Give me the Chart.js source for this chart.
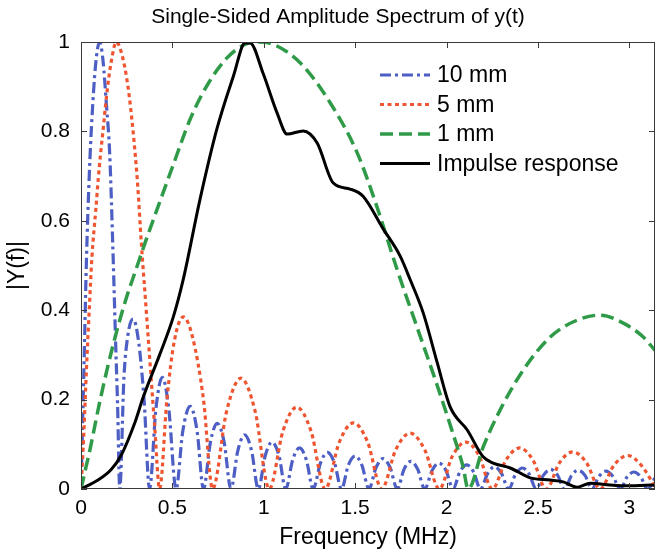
<!DOCTYPE html>
<html><head><meta charset="utf-8">
<script src="https://cdn.jsdelivr.net/npm/chart.js@4.4.0/dist/chart.umd.min.js"></script>
<style>html,body{margin:0;padding:0;background:#fff}canvas{display:block}</style>
</head><body>
<canvas id="c" width="657" height="552"></canvas>
<script>
const chartTitle = 'Single-Sided Amplitude Spectrum of y(t)';
const xTitle = 'Frequency (MHz)';
const yTitle = '|Y(f)|';
const seriesNames = ['10 mm', '5 mm', '1 mm', 'Impulse response'];

// 10 mm (blue, dash-dot)
const f10 = [0,0.015,0.029,0.045,0.06,0.08,0.102,0.12,0.139,0.157,0.175,0.19,0.2,0.212,
  0.235,0.255,0.285,0.315,0.345,0.375,
  0.41,0.445,0.48,0.52,
  0.557,0.597,0.635,0.67,
  0.708,0.745,0.783,0.82,
  0.858,0.895,0.933,0.97,
  1.008,1.045,1.083,1.12,
  1.158,1.195,1.233,1.27,
  1.31,1.348,1.387,1.425,
  1.462,1.5,1.537,1.575,
  1.614,1.652,1.691,1.73,
  1.767,1.805,1.842,1.88,
  1.92,1.958,1.997,2.035,
  2.072,2.11,2.148,2.185,
  2.225,2.262,2.3,2.34,
  2.377,2.415,2.452,2.49,
  2.53,2.568,2.607,2.645,
  2.683,2.72,2.758,2.795,
  2.833,2.872,2.91,2.95,
  2.987,3.025,3.062,3.10,3.14];
const a10 = [0,0.25,0.5,0.7,0.83,0.95,1.0,0.96,0.86,0.75,0.53,0.32,0.19,0,
  0.25,0.34,0.38,0.33,0.2,0,
  0.18,0.25,0.18,0,
  0.13,0.185,0.13,0,
  0.105,0.147,0.105,0,
  0.086,0.121,0.086,0,
  0.075,0.105,0.075,0,
  0.065,0.092,0.065,0,
  0.058,0.082,0.058,0,
  0.053,0.074,0.053,0,
  0.048,0.068,0.048,0,
  0.044,0.062,0.044,0,
  0.041,0.058,0.041,0,
  0.038,0.054,0.038,0,
  0.035,0.05,0.035,0,
  0.033,0.047,0.033,0,
  0.031,0.044,0.031,0,
  0.03,0.042,0.03,0,
  0.028,0.04,0.028,0,
  0.027,0.038,0.027,0,0.025];

// 5 mm (red, dotted)
const f5 = [0,0.015,0.03,0.045,0.06,0.08,0.1,0.12,0.14,0.165,0.193,0.225,0.257,0.285,0.31,0.33,0.355,0.378,0.403,0.43,
  0.47,0.51,0.56,0.61,0.67,0.72,
  0.797,0.875,0.952,1.03,
  1.105,1.18,1.258,1.336,
  1.413,1.49,1.568,1.645,
  1.722,1.80,1.88,1.96,
  2.032,2.105,2.178,2.25,
  2.325,2.4,2.472,2.545,
  2.618,2.69,2.765,2.84,
  2.915,2.99,3.065,3.14];
const a5 = [0,0.12,0.27,0.4,0.52,0.62,0.72,0.8,0.88,0.955,1.0,0.97,0.9,0.8,0.68,0.55,0.41,0.28,0.14,0,
  0.2,0.33,0.385,0.34,0.2,0,
  0.175,0.248,0.175,0,
  0.13,0.183,0.13,0,
  0.105,0.148,0.105,0,
  0.088,0.125,0.088,0,
  0.074,0.105,0.074,0,
  0.065,0.092,0.065,0,
  0.059,0.083,0.059,0,
  0.053,0.075,0.053,0.005];

// 1 mm (green, dashed)
const f1 = [0,0.05,0.1,0.15,0.2,0.25,0.3,0.35,0.42,0.5,0.6,0.7,0.8,0.9,0.97,1.05,1.2,1.363,1.511,1.62,1.73,1.84,1.95,2.03,2.09,2.118,
  2.2,2.293,2.419,2.567,2.715,2.841,2.967,3.076,3.14];
const a1 = [0,0.09,0.19,0.28,0.36,0.43,0.49,0.55,0.63,0.72,0.83,0.91,0.965,0.995,1.0,0.995,0.953,0.864,0.752,0.63,0.49,0.36,0.23,0.13,0.05,0,
  0.094,0.177,0.266,0.34,0.378,0.389,0.371,0.34,0.31];

// Impulse response (black, solid)
const fImp = [0,0.093,0.164,0.219,0.296,0.34,0.43,0.505,0.56,0.651,0.743,0.834,0.898,0.925,0.996,1.073,1.128,1.215,1.292,1.379,1.472,1.543,1.653,1.746,1.801,1.872,1.949,2.02,2.113,2.2,2.255,2.348,2.458,2.567,2.638,2.715,2.786,2.895,3.005,3.114,3.14];
const aImp = [0,0.02,0.043,0.075,0.15,0.205,0.3,0.385,0.47,0.648,0.805,0.924,0.998,0.998,0.93,0.841,0.794,0.801,0.774,0.685,0.671,0.655,0.582,0.521,0.468,0.394,0.282,0.183,0.132,0.072,0.058,0.047,0.025,0.02,0.016,0.004,0.013,0.009,0.007,0.009,0.008];

const xTickValues = [0,0.5,1,1.5,2,2.5,3];
const yTickValues = [0,0.2,0.4,0.6,0.8,1];

const colors = ['#4d5ec4', '#ee5530', '#2f9b48', '#000000'];
const dashes = [[11,4,3,4], [4,3.5], [13,6], []];
const widths = [3.2, 3.2, 3.5, 3];

const pts = (xs, ys) => xs.map((x, i) => ({x: x, y: ys[i]}));
const allData = [pts(f10, a10), pts(f5, a5), pts(f1, a1), pts(fImp, aImp)];

const FONT = "'Liberation Sans', Arial, sans-serif";

const framePlugin = {
  id: 'frame',
  afterDraw(chart) {
    const {ctx, chartArea: a, scales: {x, y}} = chart;
    ctx.save();
    ctx.strokeStyle = '#3a3a3a';
    ctx.lineWidth = 1;
    ctx.setLineDash([]);
    ctx.strokeRect(a.left + 0.5, a.top + 0.5, a.right - a.left - 1, a.bottom - a.top - 1);
    const tl = 6;
    ctx.beginPath();
    xTickValues.forEach(v => {
      const px = Math.round(x.getPixelForValue(v)) + 0.5;
      ctx.moveTo(px, a.bottom); ctx.lineTo(px, a.bottom - tl);
      ctx.moveTo(px, a.top); ctx.lineTo(px, a.top + tl);
    });
    yTickValues.forEach(v => {
      const py = Math.round(y.getPixelForValue(v)) + 0.5;
      ctx.moveTo(a.left, py); ctx.lineTo(a.left + tl, py);
      ctx.moveTo(a.right, py); ctx.lineTo(a.right - tl, py);
    });
    ctx.stroke();

    // title
    ctx.fillStyle = '#000';
    ctx.font = '21px ' + FONT;
    ctx.textAlign = 'center';
    ctx.textBaseline = 'middle';
    ctx.fillText(chartTitle, 338, 17);

    // legend
    const lx0 = 380, lx1 = 430, tx = 437, ly0 = 75, dy = 29.5;
    ctx.font = '23px ' + FONT;
    ctx.textAlign = 'left';
    seriesNames.forEach((name, i) => {
      const ly = ly0 + dy * i;
      ctx.beginPath();
      ctx.strokeStyle = colors[i];
      ctx.lineWidth = widths[i];
      ctx.setLineDash(dashes[i]);
      ctx.moveTo(lx0, ly); ctx.lineTo(lx1, ly);
      ctx.stroke();
      ctx.setLineDash([]);
      ctx.fillStyle = '#000';
      ctx.fillText(name, tx, ly + 1);
    });
    ctx.restore();
  }
};

new Chart(document.getElementById('c'), {
  type: 'line',
  data: {
    datasets: seriesNames.map((name, i) => ({
      label: name,
      data: allData[i],
      borderColor: colors[i],
      backgroundColor: colors[i],
      borderWidth: widths[i],
      borderDash: dashes[i],
      pointRadius: 0,
      fill: false,
      cubicInterpolationMode: 'monotone',
      order: 4 - i
    }))
  },
  options: {
    responsive: false,
    animation: false,
    devicePixelRatio: 1,
    layout: {padding: {top: 42, right: 2, left: 0, bottom: 0}},
    plugins: {legend: {display: false}, tooltip: {enabled: false}, title: {display: false}},
    scales: {
      x: {
        type: 'linear', min: 0, max: 3.14,
        afterFit(s) { s.height = 63; },
        afterBuildTicks(s) { s.ticks = xTickValues.map(v => ({value: v})); },
        grid: {display: false, drawTicks: false},
        border: {display: false},
        ticks: {padding: 7, color: '#000', font: {family: FONT, size: 21}, includeBounds: false,
          callback: v => String(v)},
        title: {display: true, text: xTitle, color: '#000', font: {family: FONT, size: 23}, padding: {top: 0, bottom: 1}}
      },
      y: {
        type: 'linear', min: 0, max: 1,
        afterFit(s) { s.width = 81; },
        afterBuildTicks(s) { s.ticks = yTickValues.map(v => ({value: v})); },
        grid: {display: false, drawTicks: false},
        border: {display: false},
        ticks: {padding: 11, color: '#000', font: {family: FONT, size: 21}, callback: v => String(v)},
        title: {display: true, text: yTitle, color: '#000', font: {family: FONT, size: 23}, padding: {top: 4, bottom: 0}}
      }
    }
  },
  plugins: [framePlugin]
});
</script>
</body></html>
